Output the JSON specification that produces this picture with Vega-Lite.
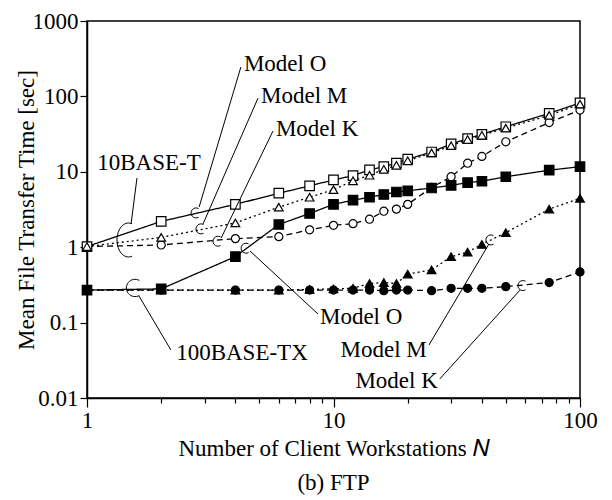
{
  "$schema": "https://vega.github.io/schema/vega-lite/v6.json",
  "width": 493,
  "height": 377,
  "autosize": {"type": "none"},
  "padding": {"left": 87, "top": 21, "right": 32, "bottom": 102},
  "background": "white",
  "config": {
    "font": "Liberation Serif, Times New Roman, Times, serif",
    "view": {"stroke": "black", "strokeWidth": 1.5},
    "axis": {
      "domainColor": "black", "domainWidth": 1.5, "tickColor": "black", "tickWidth": 1.2,
      "labelColor": "black", "labelFont": "Liberation Serif, Times New Roman, Times, serif", "labelFontSize": 23,
      "titleFont": "Liberation Serif, Times New Roman, Times, serif", "titleFontSize": 23, "titleFontWeight": "normal",
      "titleColor": "black", "grid": false
    },
    "text": {"font": "Liberation Serif, Times New Roman, Times, serif"},
    "title": {"font": "Liberation Serif, Times New Roman, Times, serif"}
  },
  "title": {"text": "(b) FTP", "orient": "bottom", "anchor": "middle", "font": "Liberation Serif, Times New Roman, Times, serif", "fontSize": 23, "fontWeight": "normal", "color": "black", "offset": 12},
  "datasets": {
    "series": [
      {"N":1,"T":1.02,"net":"10BASE-T","model":"O"},{"N":2,"T":2.2,"net":"10BASE-T","model":"O"},{"N":4,"T":3.7,"net":"10BASE-T","model":"O"},{"N":6,"T":5.2,"net":"10BASE-T","model":"O"},{"N":8,"T":6.5,"net":"10BASE-T","model":"O"},{"N":10,"T":7.8,"net":"10BASE-T","model":"O"},{"N":12,"T":8.9,"net":"10BASE-T","model":"O"},{"N":14,"T":10.6,"net":"10BASE-T","model":"O"},{"N":16,"T":11.7,"net":"10BASE-T","model":"O"},{"N":18,"T":13.0,"net":"10BASE-T","model":"O"},{"N":20,"T":14.7,"net":"10BASE-T","model":"O"},{"N":25,"T":18.3,"net":"10BASE-T","model":"O"},{"N":30,"T":23.4,"net":"10BASE-T","model":"O"},{"N":35,"T":27.5,"net":"10BASE-T","model":"O"},{"N":40,"T":31.4,"net":"10BASE-T","model":"O"},{"N":50,"T":39.6,"net":"10BASE-T","model":"O"},{"N":75,"T":59.6,"net":"10BASE-T","model":"O"},{"N":100,"T":82,"net":"10BASE-T","model":"O"},
      {"N":1,"T":1.02,"net":"10BASE-T","model":"M"},{"N":2,"T":1.35,"net":"10BASE-T","model":"M"},{"N":4,"T":2.1,"net":"10BASE-T","model":"M"},{"N":6,"T":3.4,"net":"10BASE-T","model":"M"},{"N":8,"T":4.6,"net":"10BASE-T","model":"M"},{"N":10,"T":5.8,"net":"10BASE-T","model":"M"},{"N":12,"T":7.6,"net":"10BASE-T","model":"M"},{"N":14,"T":9.0,"net":"10BASE-T","model":"M"},{"N":16,"T":10.8,"net":"10BASE-T","model":"M"},{"N":18,"T":12.2,"net":"10BASE-T","model":"M"},{"N":20,"T":14.0,"net":"10BASE-T","model":"M"},{"N":25,"T":17.8,"net":"10BASE-T","model":"M"},{"N":30,"T":22.2,"net":"10BASE-T","model":"M"},{"N":35,"T":26.8,"net":"10BASE-T","model":"M"},{"N":40,"T":30.5,"net":"10BASE-T","model":"M"},{"N":50,"T":38,"net":"10BASE-T","model":"M"},{"N":75,"T":56,"net":"10BASE-T","model":"M"},{"N":100,"T":79,"net":"10BASE-T","model":"M"},
      {"N":1,"T":1.02,"net":"10BASE-T","model":"K"},{"N":2,"T":1.07,"net":"10BASE-T","model":"K"},{"N":4,"T":1.3,"net":"10BASE-T","model":"K"},{"N":6,"T":1.38,"net":"10BASE-T","model":"K"},{"N":8,"T":1.7,"net":"10BASE-T","model":"K"},{"N":10,"T":1.95,"net":"10BASE-T","model":"K"},{"N":12,"T":2.05,"net":"10BASE-T","model":"K"},{"N":14,"T":2.35,"net":"10BASE-T","model":"K"},{"N":16,"T":3.0,"net":"10BASE-T","model":"K"},{"N":18,"T":3.2,"net":"10BASE-T","model":"K"},{"N":20,"T":3.7,"net":"10BASE-T","model":"K"},{"N":25,"T":6.2,"net":"10BASE-T","model":"K"},{"N":30,"T":8.6,"net":"10BASE-T","model":"K"},{"N":35,"T":13,"net":"10BASE-T","model":"K"},{"N":40,"T":16,"net":"10BASE-T","model":"K"},{"N":50,"T":25,"net":"10BASE-T","model":"K"},{"N":75,"T":45,"net":"10BASE-T","model":"K"},{"N":100,"T":66,"net":"10BASE-T","model":"K"},
      {"N":1,"T":0.27,"net":"100BASE-TX","model":"O"},{"N":2,"T":0.28,"net":"100BASE-TX","model":"O"},{"N":4,"T":0.75,"net":"100BASE-TX","model":"O"},{"N":6,"T":2.0,"net":"100BASE-TX","model":"O"},{"N":8,"T":2.8,"net":"100BASE-TX","model":"O"},{"N":10,"T":3.7,"net":"100BASE-TX","model":"O"},{"N":12,"T":4.2,"net":"100BASE-TX","model":"O"},{"N":14,"T":4.6,"net":"100BASE-TX","model":"O"},{"N":16,"T":5.0,"net":"100BASE-TX","model":"O"},{"N":18,"T":5.4,"net":"100BASE-TX","model":"O"},{"N":20,"T":5.6,"net":"100BASE-TX","model":"O"},{"N":25,"T":6.1,"net":"100BASE-TX","model":"O"},{"N":30,"T":6.6,"net":"100BASE-TX","model":"O"},{"N":35,"T":7.2,"net":"100BASE-TX","model":"O"},{"N":40,"T":7.5,"net":"100BASE-TX","model":"O"},{"N":50,"T":8.6,"net":"100BASE-TX","model":"O"},{"N":75,"T":10.5,"net":"100BASE-TX","model":"O"},{"N":100,"T":11.7,"net":"100BASE-TX","model":"O"},
      {"N":1,"T":0.27,"net":"100BASE-TX","model":"M"},{"N":2,"T":0.27,"net":"100BASE-TX","model":"M"},{"N":4,"T":0.27,"net":"100BASE-TX","model":"M"},{"N":6,"T":0.27,"net":"100BASE-TX","model":"M"},{"N":8,"T":0.275,"net":"100BASE-TX","model":"M"},{"N":10,"T":0.28,"net":"100BASE-TX","model":"M"},{"N":12,"T":0.285,"net":"100BASE-TX","model":"M"},{"N":14,"T":0.33,"net":"100BASE-TX","model":"M"},{"N":16,"T":0.34,"net":"100BASE-TX","model":"M"},{"N":18,"T":0.33,"net":"100BASE-TX","model":"M"},{"N":20,"T":0.44,"net":"100BASE-TX","model":"M"},{"N":25,"T":0.5,"net":"100BASE-TX","model":"M"},{"N":30,"T":0.75,"net":"100BASE-TX","model":"M"},{"N":35,"T":0.86,"net":"100BASE-TX","model":"M"},{"N":40,"T":1.09,"net":"100BASE-TX","model":"M"},{"N":50,"T":1.56,"net":"100BASE-TX","model":"M"},{"N":75,"T":3.2,"net":"100BASE-TX","model":"M"},{"N":100,"T":4.45,"net":"100BASE-TX","model":"M"},
      {"N":1,"T":0.27,"net":"100BASE-TX","model":"K"},{"N":2,"T":0.27,"net":"100BASE-TX","model":"K"},{"N":4,"T":0.27,"net":"100BASE-TX","model":"K"},{"N":6,"T":0.27,"net":"100BASE-TX","model":"K"},{"N":8,"T":0.27,"net":"100BASE-TX","model":"K"},{"N":10,"T":0.27,"net":"100BASE-TX","model":"K"},{"N":12,"T":0.27,"net":"100BASE-TX","model":"K"},{"N":14,"T":0.27,"net":"100BASE-TX","model":"K"},{"N":16,"T":0.265,"net":"100BASE-TX","model":"K"},{"N":18,"T":0.27,"net":"100BASE-TX","model":"K"},{"N":20,"T":0.27,"net":"100BASE-TX","model":"K"},{"N":25,"T":0.265,"net":"100BASE-TX","model":"K"},{"N":30,"T":0.285,"net":"100BASE-TX","model":"K"},{"N":35,"T":0.285,"net":"100BASE-TX","model":"K"},{"N":40,"T":0.285,"net":"100BASE-TX","model":"K"},{"N":50,"T":0.3,"net":"100BASE-TX","model":"K"},{"N":75,"T":0.34,"net":"100BASE-TX","model":"K"},{"N":100,"T":0.47,"net":"100BASE-TX","model":"K"}
    ],
    "leaders": [
      {"N":4.21,"T":245,"N2":2.85,"T2":3.41},
      {"N":4.94,"T":95,"N2":2.955,"T2":2.03},
      {"N":5.68,"T":34.7,"N2":3.5,"T2":1.32},
      {"N":1.595,"T":8.28,"N2":1.509,"T2":2.03},
      {"N":2.19,"T":0.0433,"N2":1.625,"T2":0.2254},
      {"N":8.65,"T":0.13,"N2":4.585,"T2":0.891},
      {"N":24.4,"T":0.0505,"N2":42.7,"T2":1.1},
      {"N":27.0,"T":0.0179,"N2":57.1,"T2":0.27}
    ],
    "arcsSmall": [
      {"N":2.77,"T":2.85},{"N":2.9,"T":1.75},{"N":3.4,"T":1.2},{"N":4.42,"T":0.97},{"N":43.5,"T":1.25},{"N":58.7,"T":0.31}
    ],
    "arcMid": [{"N":1.566,"T":0.288}],
    "arcBig": [{"N":1.474,"T":1.246}],
    "labelsL": [
      {"N":4.33,"T":269,"text":"Model O"},
      {"N":5.08,"T":101,"text":"Model M"},
      {"N":5.84,"T":37,"text":"Model K"},
      {"N":2.3,"T":0.0395,"text":"100BASE-TX"},
      {"N":8.81,"T":0.1186,"text":"Model O"}
    ],
    "labelsR": [
      {"N":23.9,"T":0.0433,"text":"Model M"},
      {"N":26.5,"T":0.0168,"text":"Model K"}
    ],
    "labelsC": [
      {"N":1.784,"T":13.1,"text":"10BASE-T"}
    ]
  },
  "encoding": {
    "x": {
      "field": "N", "type": "quantitative",
      "scale": {"type": "log", "domain": [1, 100], "nice": false},
      "axis": {
        "values": [1,2,3,4,5,6,7,8,9,10,20,30,40,50,60,70,80,90,100],
        "format": "~g",
        "labelExpr": "(datum.value == 1 || datum.value == 10 || datum.value == 100) ? datum.label : ''",
        "labelFlush": false, "labelOverlap": false,
        "tickSize": {"condition": {"test": "datum.value == 1 || datum.value == 10 || datum.value == 100", "value": 9}, "value": 5},
        "labelPadding": 2,
        "title": "Number of Client Workstations 𝑁",
        "titlePadding": 5
      }
    },
    "y": {
      "field": "T", "type": "quantitative",
      "scale": {"type": "log", "domain": [0.01, 1000], "nice": false},
      "axis": {
        "values": [0.01, 0.1, 1, 10, 100, 1000],
        "format": "~g",
        "tickSize": 7,
        "labelPadding": 2,
        "labelFlush": false,
        "title": "Mean File Transfer Time [sec]",
        "titlePadding": -6
      }
    }
  },
  "layer": [
    {
      "data": {"name": "series"},
      "mark": {"type": "line", "color": "black", "strokeWidth": 1.3},
      "encoding": {
        "detail": [{"field": "net"}, {"field": "model"}],
        "strokeDash": {"field": "model", "type": "nominal", "scale": {"domain": ["O","M","K"], "range": [[1,0],[2,3],[6,4]]}, "legend": null}
      }
    },
    {
      "data": {"name": "series"},
      "transform": [{"filter": "datum.model == 'K'"}],
      "mark": {"type": "point", "shape": "circle", "filled": true, "size": 65, "stroke": "black", "strokeWidth": 1.2, "opacity": 1},
      "encoding": {
        "fill": {"field": "net", "type": "nominal", "scale": {"domain": ["10BASE-T","100BASE-TX"], "range": ["white","black"]}, "legend": null}
      }
    },
    {
      "data": {"name": "series"},
      "transform": [{"filter": "datum.model == 'O'"}],
      "mark": {"type": "point", "shape": "square", "filled": true, "size": 90, "stroke": "black", "strokeWidth": 1.2, "opacity": 1},
      "encoding": {
        "fill": {"field": "net", "type": "nominal", "scale": {"domain": ["10BASE-T","100BASE-TX"], "range": ["white","black"]}, "legend": null}
      }
    },
    {
      "data": {"name": "series"},
      "transform": [{"filter": "datum.model == 'M'"}],
      "mark": {"type": "point", "shape": "triangle-up", "filled": true, "size": 75, "stroke": "black", "strokeWidth": 1.2, "opacity": 1},
      "encoding": {
        "fill": {"field": "net", "type": "nominal", "scale": {"domain": ["10BASE-T","100BASE-TX"], "range": ["white","black"]}, "legend": null}
      }
    },
    {
      "data": {"name": "leaders"},
      "mark": {"type": "rule", "color": "black", "strokeWidth": 1},
      "encoding": {"x2": {"field": "N2"}, "y2": {"field": "T2"}}
    },
    {
      "data": {"name": "arcsSmall"},
      "mark": {"type": "point", "shape": "M 0.5 -0.866 A 1 1 0 1 0 0.5 0.866", "filled": false, "size": 100, "stroke": "black", "strokeWidth": 1, "opacity": 1}
    },
    {
      "data": {"name": "arcMid"},
      "mark": {"type": "point", "shape": "M 0.5 -0.866 A 1 1 0 1 0 0.5 0.866", "filled": false, "size": 300, "stroke": "black", "strokeWidth": 1, "opacity": 1}
    },
    {
      "data": {"name": "arcBig"},
      "mark": {"type": "point", "shape": "M 0.204 -0.954 A 0.68 1 0 1 0 0.204 0.954", "filled": false, "size": 1156, "stroke": "black", "strokeWidth": 1, "opacity": 1}
    },
    {
      "data": {"name": "labelsL"},
      "mark": {"type": "text", "align": "left", "baseline": "middle", "fontSize": 23, "color": "black"},
      "encoding": {"text": {"field": "text"}}
    },
    {
      "data": {"name": "labelsR"},
      "mark": {"type": "text", "align": "right", "baseline": "middle", "fontSize": 23, "color": "black"},
      "encoding": {"text": {"field": "text"}}
    },
    {
      "data": {"name": "labelsC"},
      "mark": {"type": "text", "align": "center", "baseline": "middle", "fontSize": 23, "color": "black"},
      "encoding": {"text": {"field": "text"}}
    }
  ]
}
